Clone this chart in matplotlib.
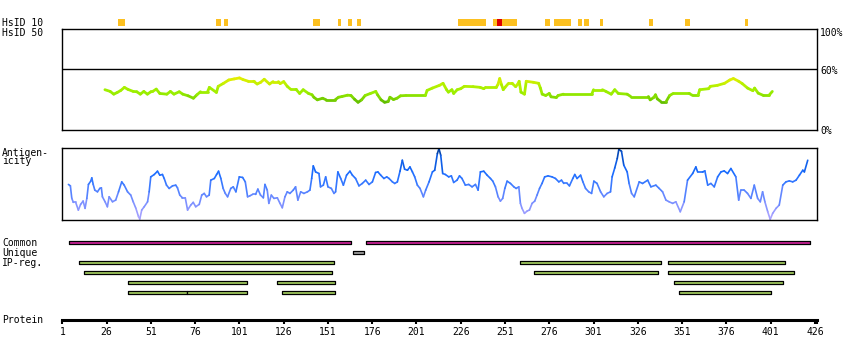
from __future__ import annotations

import matplotlib

matplotlib.use("Agg")
import matplotlib.pyplot as plt
import numpy as np
from matplotlib.collections import LineCollection
from matplotlib.colors import LinearSegmentedColormap, Normalize

SEQ_END = 427.4
TICK_POS = [1, 26, 51, 76, 101, 126, 151, 176, 201, 226, 251, 276, 301, 326, 351, 376, 401, 426]

# HsID 10 hits (start, end residue)
HSID10_HITS = [
    (33, 36), (88, 90), (93, 94), (143, 146), (157, 158), (163, 164), (168, 169),
    (225, 231), (232, 240), (245, 246), (250, 257), (274, 276), (279, 286),
    (287, 288), (293, 294), (296, 298), (305, 306), (333, 334), (353, 355), (387, 388),
]
HSID10_STRONG = [(247, 249)]

# HsID 50 profile: (residue, % identity)
HSID50_PROFILE = [
    (25, 39.7), (28, 38), (30, 35.3), (32, 37), (34, 39), (36, 42), (38, 40), (41, 38),
    (43, 37.7), (45, 35.3), (47, 38), (49, 35.3), (51, 37.7), (52, 38), (54, 40.3), (56, 36),
    (60, 35.3), (62, 38), (64, 35.3), (67, 37.7), (69, 35.3), (72, 33.7), (75, 31.3), (77, 34.7),
    (79, 37.7), (83, 37.7), (84, 42), (88, 37), (89, 43), (92, 46), (95, 49.3), (98, 50.3),
    (101, 51.3), (103, 49.7), (106, 48), (109, 48), (111, 45.3), (113, 47), (115, 50), (118, 45.3),
    (120, 47.7), (123, 47.7), (124, 45.7), (126, 47.7), (128, 43), (130, 40), (133, 40), (135, 36),
    (137, 39.7), (140, 36), (142, 34.7), (143, 32.3), (145, 29.7), (148, 31.3), (150, 29.7),
    (155, 29.7), (157, 32.3), (159, 33), (162, 34.3), (164, 34), (166, 30.3), (168, 27.3),
    (170, 29.7), (172, 34), (175, 36), (178, 38), (179, 34.7), (181, 29.7), (183, 27.3), (185, 28),
    (186, 32.3), (188, 30), (190, 31.3), (192, 33.7), (195, 34), (206, 34), (207, 39), (210, 41.3),
    (214, 44), (216, 46), (218, 39.7), (219, 37.3), (221, 39.7), (222, 36), (224, 39.7),
    (226, 40.7), (228, 43), (233, 42.7), (237, 42), (239, 40.7), (240, 42), (246, 42), (247, 44.7),
    (248, 50.7), (249, 44.7), (250, 39.7), (251, 42), (253, 46), (255, 46), (257, 42.7),
    (258, 44.7), (259, 48), (260, 37.3), (262, 35.3), (263, 48), (267, 47), (270, 46), (271, 41.3),
    (272, 35.3), (274, 34), (276, 36), (277, 32.7), (280, 32), (281, 34), (284, 35.3), (300, 35.3),
    (301, 39.7), (306, 39.7), (308, 38), (311, 35.3), (313, 39.7), (315, 36), (320, 35.3), (322, 33),
    (332, 33), (333, 29.7), (335, 32), (336, 34.7), (337, 30.7), (339, 28), (342, 28), (344, 34),
    (346, 36), (355, 36), (357, 34), (360, 34), (361, 39.7), (366, 40.7), (367, 43), (371, 44),
    (375, 46), (378, 49.3), (380, 50.7), (383, 48), (385, 45.7), (388, 41.3), (391, 38.7),
    (392, 41.3), (394, 36.3), (397, 34), (400, 34), (402, 38),
]

# Antigenicity profile: (residue, score, arbitrary units)
ANTIGEN_PROFILE = [
    (4.4, 35.7), (5.5, 34.3), (6.3, 21.7), (7.2, 17.7), (8.5, 17.7), (10.0, 10), (11.3, 15.7),
    (12.7, 19), (13.8, 11.7), (14.8, 21.7), (15.7, 35.7), (17.0, 39), (17.6, 42.3), (18.4, 35.7),
    (19.3, 30), (20.8, 28.3), (22.1, 31.7), (23.0, 32.3), (23.6, 23.3), (25.1, 18.3), (26.4, 13.3),
    (27.4, 23.3), (29.3, 18.3), (31.1, 20), (32.7, 28.3), (34.5, 38.3), (35.9, 35), (37.8, 28.3),
    (39.6, 25), (41.0, 18.3), (42.5, 11.7), (44.0, 3.3), (44.7, 1), (45.8, 10), (47.2, 13.3),
    (49.1, 18.3), (50.0, 28.3), (50.9, 43.3), (52.9, 45.7), (54.7, 49), (56.0, 45), (57.5, 45.7),
    (58.5, 41.7), (59.8, 35), (61.3, 31.7), (63.2, 34.3), (65.0, 35), (66.0, 32.3), (67.3, 25),
    (68.8, 22.3), (70.4, 22.3), (71.7, 10), (73.5, 15), (74.9, 17.7), (76.3, 13.3), (78.3, 15.7),
    (79.7, 25), (81.1, 26.7), (82.4, 23.3), (83.9, 25), (84.8, 40), (86.8, 41.7), (88.1, 45.7),
    (89.2, 49), (90.5, 41.7), (91.8, 31.7), (93.0, 26.7), (94.3, 23.3), (96.1, 31.7), (97.5, 33.3),
    (99.0, 28.3), (100.9, 43.3), (102.8, 42.7), (104.3, 38.3), (105.6, 23.3), (106.9, 24.3),
    (108.4, 25.7), (110.1, 25.7), (111.4, 31), (112.9, 25), (114.5, 22.3), (115.4, 35.7),
    (116.7, 30), (117.6, 16.7), (119.0, 25), (120.5, 21.7), (122.4, 22.3), (123.9, 16.7),
    (125.2, 12.3), (126.7, 23.3), (128.0, 28.3), (129.5, 26.7), (131.4, 30), (132.7, 33.3),
    (134.0, 20), (135.6, 28.3), (137.4, 26.7), (139.4, 28.3), (140.8, 30), (141.8, 41.7),
    (142.7, 54.3), (144.0, 48.3), (145.9, 46.7), (146.8, 33.3), (148.4, 35), (149.7, 43.3),
    (151.0, 33.3), (152.9, 31.7), (154.4, 26.7), (155.3, 28.3), (156.6, 48.3), (158.2, 41.7),
    (159.7, 35), (161.5, 45), (163.4, 49), (164.8, 45), (166.6, 41.7), (168.5, 34.3), (170.4, 36.7),
    (172.3, 40), (174.2, 35.7), (176.1, 38.3), (177.9, 47.7), (179.2, 48.3), (180.8, 45),
    (182.6, 41.7), (184.2, 43.3), (185.5, 41.7), (187.4, 38.3), (188.7, 36.7), (190.2, 38.3),
    (191.7, 49), (193.0, 60), (194.3, 51), (195.9, 50), (197.3, 53.3), (198.7, 48.3), (200.0, 43.3),
    (201.5, 35), (203.0, 31.7), (204.9, 23.3), (206.2, 30), (208.1, 38.3), (210.0, 48.3),
    (211.3, 50), (212.8, 66.7), (213.7, 71.7), (214.7, 65), (215.8, 46.7), (217.3, 45.7),
    (219.2, 43.3), (220.7, 44.3), (222.0, 37.7), (223.9, 40), (225.3, 44.3), (226.7, 41.7),
    (228.6, 35), (230.5, 35.7), (232.4, 33.3), (234.3, 35.7), (235.8, 30), (237.1, 48.3), (239.0, 49),
    (240.9, 45), (242.8, 41.7), (244.1, 39), (245.6, 33.3), (247.1, 23.3), (248.4, 19), (249.7, 21.7),
    (250.9, 31.7), (252.2, 39), (254.1, 36.7), (256.0, 33.3), (257.3, 31.7), (258.8, 33.3),
    (259.7, 16.7), (260.6, 11.7), (262.0, 6.7), (263.5, 9), (264.8, 10), (266.3, 16.7), (267.8, 19),
    (269.1, 25), (270.5, 31.7), (271.9, 36.7), (273.4, 43.3), (275.3, 44.3), (277.6, 43.3),
    (279.5, 41.7), (281.4, 38.3), (282.9, 40), (284.2, 36.7), (286.1, 36.7), (287.4, 34.3),
    (289.3, 41.7), (290.4, 45.7), (291.7, 41.7), (293.7, 45), (295.0, 38.3), (296.5, 31.7),
    (298.3, 28.3), (299.9, 26.7), (301.2, 39), (303.0, 36.7), (305.0, 28.3), (306.8, 23.3),
    (308.7, 26.7), (310.6, 28.3), (311.5, 43.3), (313.0, 52.3), (314.4, 61.7), (315.3, 71),
    (316.8, 69), (318.1, 55), (320.0, 48.3), (321.1, 36.7), (322.5, 26.7), (324.0, 23.3),
    (326.8, 38.3), (328.7, 36.7), (331.6, 40), (333.4, 33.3), (336.2, 35), (338.1, 31.7),
    (340.0, 28.3), (341.9, 20), (343.7, 18.3), (345.7, 16.7), (347.5, 18.3), (350.0, 8.3),
    (352.2, 18.3), (354.1, 40), (357.0, 46.7), (358.8, 53.3), (359.8, 48.3), (362.6, 48.3),
    (363.9, 49.3), (365.5, 35), (367.3, 36.7), (369.2, 33.3), (371.1, 43.3), (373.0, 48.3),
    (374.8, 49.3), (376.7, 46.7), (378.6, 51.7), (381.4, 43.3), (383.0, 20), (384.2, 30),
    (386.1, 30), (388.0, 26.7), (389.9, 21.7), (391.8, 35), (393.7, 21.7), (395.2, 18.3),
    (396.5, 28.3), (397.8, 18.3), (399.4, 8.3), (400.8, 0.7), (402.2, 6.7), (404.1, 11.7),
    (405.9, 15), (407.9, 35), (409.7, 38.3), (411.6, 39.3), (413.5, 38.3), (415.4, 40),
    (417.3, 45), (419.2, 50), (420.1, 48.3), (422.0, 60),
]

COMMON = [(5, 164), (172.5, 423.5)]
UNIQUE = [(165, 171.3)]
IP_REG = [
    [(10.2, 154.4), (259.5, 339.2), (343.2, 409.4)],
    [(13.0, 153.3), (267.4, 337.5), (343.2, 414.4)],
    [(37.9, 105.2), (122.1, 154.9), (346.6, 408.2)],
    [(37.9, 71.3), (71.3, 105.2), (124.9, 154.9), (349.4, 401.4)],
]

W, H = 850, 360
X0, X1 = 61.7, 817.3
MONO = "DejaVu Sans Mono"


def _px_axes(fig, top: float, bottom: float):
    ax = fig.add_axes([X0 / W, 1 - bottom / H, (X1 - X0) / W, (bottom - top) / H])
    ax.set_xlim(0.6, SEQ_END)
    return ax


def _label(fig, x: float, y: float, text: str) -> None:
    fig.text(x / W, 1 - y / H, text, fontsize=7, family=MONO, va="baseline", ha="left")


def _colored_line(ax, profile, cmap, norm, lw: float) -> None:
    pts = np.array(profile, dtype=float)
    segs = np.stack([pts[:-1], pts[1:]], axis=1)
    mid = (pts[:-1, 1] + pts[1:, 1]) / 2
    lc = LineCollection(segs, colors=cmap(norm(mid)), linewidths=lw, capstyle="round", joinstyle="round")
    ax.add_collection(lc)


def _boxed(ax) -> None:
    ax.set_xticks([])
    ax.set_yticks([])
    for sp in ax.spines.values():
        sp.set_linewidth(1.0)
        sp.set_color("black")


def _bars(ax, spans, row: float, color: str, h: float = 0.34) -> None:
    ax.broken_barh([(a, b - a) for a, b in spans], (row - h / 2, h),
                   facecolors=color, edgecolors="black", linewidth=0.9)


fig = plt.figure(figsize=(W / 100, H / 100), dpi=100)

# HsID 10 hits strip
ax10 = _px_axes(fig, 19.5, 25.5)
ax10.set_ylim(0, 1)
ax10.axis("off")
ax10.broken_barh([(a - 0.5, b - a + 1) for a, b in HSID10_HITS], (0, 1), facecolors="#fcc020")
ax10.broken_barh([(a - 0.5, b - a + 1) for a, b in HSID10_STRONG], (0, 1), facecolors="#dd0000")

# HsID 50 identity panel
ax50 = _px_axes(fig, 28.5, 130)
ax50.set_ylim(0, 100)
_boxed(ax50)
ax50.axhline(60, color="black", lw=1.0)
green = LinearSegmentedColormap.from_list(
    "hsid", ["#5cb800", "#80d800", "#99ee00", "#aaf000", "#c4f000", "#e4ee00"])
_colored_line(ax50, HSID50_PROFILE, green, Normalize(27, 51), 2.0)

# antigenicity panel
axag = _px_axes(fig, 148.3, 220)
axag.set_ylim(0, 72)
_boxed(axag)
blue = LinearSegmentedColormap.from_list(
    "ag", ["#b4a8ff", "#8c96ff", "#6688ff", "#3a7aff", "#1a6cff", "#0a58dd", "#003c99"])
_colored_line(axag, ANTIGEN_PROFILE, blue, Normalize(0, 72), 1.2)

# feature tracks
axft = _px_axes(fig, 237.5, 297.5)
axft.set_ylim(5.5, -0.5)
axft.axis("off")
_bars(axft, COMMON, 0, "#cc2299")
_bars(axft, UNIQUE, 1, "#a0a0a0")
for i, row in enumerate(IP_REG):
    _bars(axft, row, 2 + i, "#a3cc60")

# protein ruler
axpr = _px_axes(fig, 305, 319.5)
axpr.set_ylim(0, 1)
for name in ("top", "left", "right"):
    axpr.spines[name].set_visible(False)
axpr.spines["bottom"].set_linewidth(2.2)
axpr.set_yticks([])
axpr.set_xticks(TICK_POS + [427.3])
axpr.set_xticklabels([str(t) for t in TICK_POS] + [""], fontsize=7, family=MONO)
axpr.tick_params(axis="x", length=3, width=1.5, pad=2.5, direction="out")
axpr.patch.set_visible(False)

_label(fig, 2, 26, "HsID 10")
_label(fig, 2, 36.5, "HsID 50")
_label(fig, 2, 156, "Antigen-")
_label(fig, 2, 164.5, "icity")
_label(fig, 2, 246, "Common")
_label(fig, 2, 256, "Unique")
_label(fig, 2, 266, "IP-reg.")
_label(fig, 2, 323, "Protein")
_label(fig, 820, 35.5, "100%")
_label(fig, 820, 73.5, "60%")
_label(fig, 820, 133.5, "0%")

fig.savefig("out.png", dpi=100)
